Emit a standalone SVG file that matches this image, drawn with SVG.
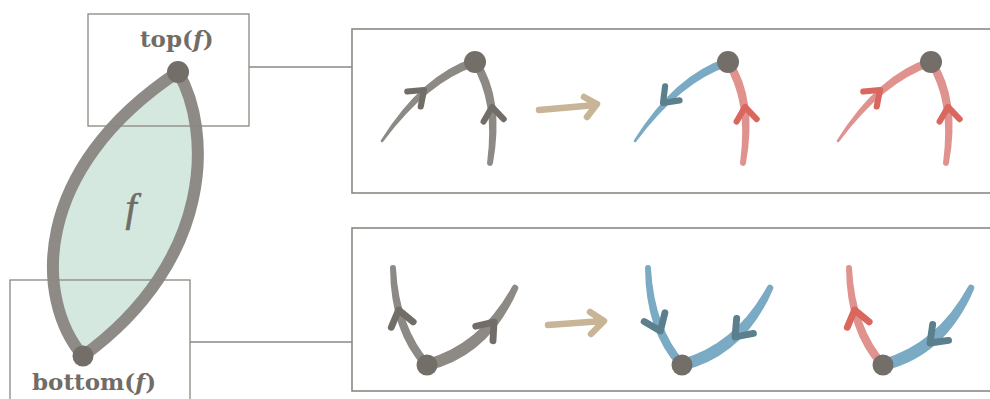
<svg xmlns="http://www.w3.org/2000/svg" xmlns:xlink="http://www.w3.org/1999/xlink" width="990" height="399" viewBox="0 0 990 399">
<style>
.box{fill:none;stroke:#8c8782;stroke-width:1.3}
.pan{fill:none;stroke:#8c8782;stroke-width:1.6}
.g{fill:#8d8a85;stroke:#8d8a85;stroke-width:1.5;stroke-linejoin:round}
.b{fill:#7aaac4;stroke:#7aaac4;stroke-width:1.5;stroke-linejoin:round}
.r{fill:#e0928f;stroke:#e0928f;stroke-width:1.5;stroke-linejoin:round}
.gd{stroke:#726d67}.bd{stroke:#5b7f8c}.rd{stroke:#d9675e}
.a{fill:none;stroke-width:5.5;stroke-linecap:round;stroke-linejoin:round}
.be{fill:none;stroke:#c8b496;stroke-width:6.5;stroke-linecap:round;stroke-linejoin:round}
.dot{fill:#736e68}
.lbl{font-family:"DejaVu Serif","Liberation Serif",serif;font-weight:bold;font-size:23px;fill:#716c66}
</style>
<defs>
<path id="tl" d="M-1.07,-3.33 Q-52.27,12.96 -93.5,78.66 A0.6,0.6 0 0 0 -92.5,79.34 Q-47.73,19.04 1.07,3.33 Z"/>
<path id="tr" d="M-2.92,1.92 Q21.09,38.84 12.83,100.65 A2.2,2.2 0 0 0 17.17,101.35 Q28.91,37.16 2.92,-1.92 Z"/>
<path id="bl" d="M2.58,-2.36 Q-28.30,-36.51 -31.80,-97.07 A2.2,2.2 0 0 0 -36.20,-96.93 Q-35.70,-33.49 -2.58,2.36 Z"/>
<path id="br" d="M1.25,4.84 Q62.12,-9.98 90.25,-75.91 A2.5,2.5 0 0 0 85.75,-78.09 Q53.88,-20.02 -1.25,-4.84 Z"/>
<path id="ch" d="M-12,-9 L0,0 L-12,9"/>
</defs>

<g id="face-f">
<path d="M83,356 C35,300 30,170 178,72 C212,130 215,260 83,356 Z" fill="#d4e8df" stroke="#8e8b86" stroke-width="12" stroke-linejoin="round"/>
<text x="131" y="221" text-anchor="middle" font-family="'Liberation Serif',serif" font-style="italic" font-size="40" fill="#716c66" stroke="#716c66" stroke-width="0.6">f</text>
</g>

<g id="top-box">
<rect class="box" x="88" y="14" width="161" height="112"/>
<text class="lbl" x="140" y="47">top(<tspan font-style="italic">f</tspan>)</text>
<circle class="dot" cx="178" cy="72" r="11"/>
</g>

<g id="bottom-box">
<rect class="box" x="10" y="280" width="180" height="125"/>
<text class="lbl" x="32" y="390">bottom(<tspan font-style="italic">f</tspan>)</text>
<circle class="dot" cx="83" cy="356" r="10.5"/>
</g>

<g id="connectors">
<line class="box" x1="249" y1="67" x2="352" y2="67"/>
<line class="box" x1="190" y1="342" x2="352" y2="342"/>
</g>

<g id="panel-top">
<rect class="pan" x="352" y="29" width="660" height="164"/>
<g id="top-scene-1">
<use xlink:href="#tl" class="g" transform="translate(475,62)"/>
<use xlink:href="#tr" class="g" transform="translate(475,62)"/>
<use xlink:href="#ch" class="a gd" transform="translate(424,90) rotate(-42) scale(1.12)"/>
<use xlink:href="#ch" class="a gd" transform="translate(492,107) rotate(-97) scale(1.12)"/>
<circle class="dot" cx="475" cy="62" r="11"/>
</g>
<path class="be" d="M539,110 L596,105 M584,97 L597,104 L587,117"/>
<g id="top-scene-2">
<use xlink:href="#tl" class="b" transform="translate(728,62)"/>
<use xlink:href="#tr" class="r" transform="translate(728,62)"/>
<use xlink:href="#ch" class="a bd" transform="translate(663,103) rotate(134) scale(1.12)"/>
<use xlink:href="#ch" class="a rd" transform="translate(745,107) rotate(-97) scale(1.12)"/>
<circle class="dot" cx="728" cy="62" r="11"/>
</g>
<g id="top-scene-3">
<use xlink:href="#tl" class="r" transform="translate(931,62)"/>
<use xlink:href="#tr" class="r" transform="translate(931,62)"/>
<use xlink:href="#ch" class="a rd" transform="translate(880,90) rotate(-42) scale(1.12)"/>
<use xlink:href="#ch" class="a rd" transform="translate(948,107) rotate(-97) scale(1.12)"/>
<circle class="dot" cx="931" cy="62" r="11"/>
</g>
</g>

<g id="panel-bottom">
<rect class="pan" x="352" y="228" width="660" height="163"/>
<g id="bottom-scene-1">
<use xlink:href="#bl" class="g" transform="translate(427,365)"/>
<use xlink:href="#br" class="g" transform="translate(427,365)"/>
<use xlink:href="#ch" class="a gd" transform="translate(398.6,310) rotate(-104) scale(1.25)"/>
<use xlink:href="#ch" class="a gd" transform="translate(494,322) rotate(-50) scale(1.25)"/>
<circle class="dot" cx="427" cy="365" r="10.5"/>
</g>
<path class="be" d="M548,325 L603,321 M590,312 L604,321 L591,334"/>
<g id="bottom-scene-2">
<use xlink:href="#bl" class="b" transform="translate(682,365)"/>
<use xlink:href="#br" class="b" transform="translate(682,365)"/>
<use xlink:href="#ch" class="a bd" transform="translate(660.4,331) rotate(67) scale(1.25)"/>
<use xlink:href="#ch" class="a bd" transform="translate(735,337) rotate(132) scale(1.25)"/>
<circle class="dot" cx="682" cy="365" r="10.5"/>
</g>
<g id="bottom-scene-3">
<use xlink:href="#bl" class="r" transform="translate(883,365)"/>
<use xlink:href="#br" class="b" transform="translate(883,365)"/>
<use xlink:href="#ch" class="a rd" transform="translate(854.6,310) rotate(-104) scale(1.25)"/>
<use xlink:href="#ch" class="a bd" transform="translate(930,343) rotate(135) scale(1.25)"/>
<circle class="dot" cx="883" cy="365" r="10.5"/>
</g>
</g>
</svg>
